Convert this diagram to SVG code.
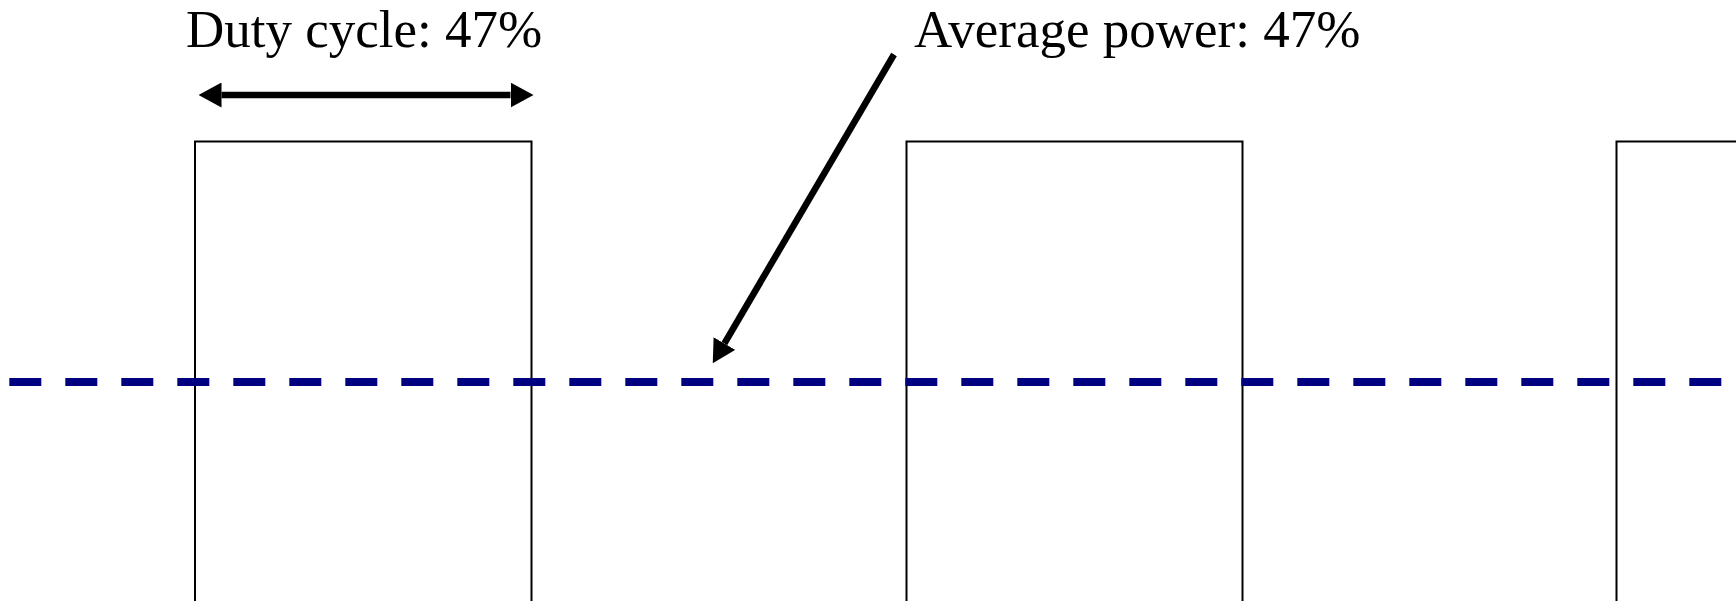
<svg xmlns="http://www.w3.org/2000/svg" width="1736" height="601" viewBox="0 0 1736 601">
  <style>
    .lbl { font-family: "Liberation Serif", "Times New Roman", serif; font-size: 53px; fill: #000; }
    .wave { fill: none; stroke: #000; stroke-width: 2; }
    .avg { fill: none; stroke: #000080; stroke-width: 8; stroke-dasharray: 32 24; }
    .arr { fill: none; stroke: #000; stroke-width: 6.5; }
  </style>
  <defs>
    <marker id="head" viewBox="0 0 23 25" markerWidth="23" markerHeight="25" markerUnits="userSpaceOnUse" refX="0" refY="12.5" orient="auto-start-reverse">
      <path d="M0,0 L23,12.5 L0,25 Z" fill="#000"/>
    </marker>
  </defs>
  <rect width="1736" height="601" fill="#fff"/>
  <g id="wave">
    <path class="wave" d="M195,612 V141.5 H531.5 V612 M906.5,612 V141.5 H1242.5 V612 M1616.5,612 V141.5 H1740"/>
  </g>
  <g id="average">
    <line class="avg" x1="9.3" y1="382" x2="1740" y2="382"/>
  </g>
  <g id="connectors">
    <line class="arr" x1="221.5" y1="95" x2="510.5" y2="95" marker-start="url(#head)" marker-end="url(#head)"/>
    <line class="arr" x1="894" y1="54.5" x2="724.4" y2="343.5" marker-end="url(#head)"/>
  </g>
  <g id="duty-label">
    <text class="lbl" x="186" y="47">Duty cycle: 47%</text>
  </g>
  <g id="power-label">
    <text class="lbl" x="914" y="47">Average power: 47%</text>
  </g>
</svg>
